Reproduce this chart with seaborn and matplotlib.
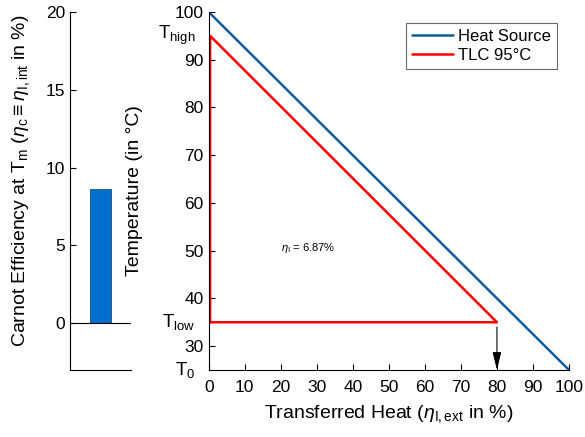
import matplotlib
matplotlib.use("Agg")
import matplotlib.pyplot as plt
import seaborn as sns
import pandas as pd
from matplotlib.patches import ArrowStyle

# ---- data ----
carnot_category = ["Tm"]
carnot_efficiency = [8.6]

source_heat = [0, 100]
source_temp = [100, 25]

tlc_heat = [0.4, 0.4, 80, 0.4]
tlc_temp = [35, 95, 35, 35]

T_high, T_low, T_0 = 95, 35, 25
eta_I_text = r"$\eta_\mathrm{I}$ = 6.87%"
arrow_x = 80

left_yticks = [0, 5, 10, 15, 20]
right_yticks = [30, 40, 50, 60, 70, 80, 90, 100]
right_xticks = list(range(0, 101, 10))

sns.set_style("ticks")
plt.rcParams["font.family"] = ["Liberation Sans", "DejaVu Sans"]
plt.rcParams["mathtext.fontset"] = "custom"
plt.rcParams["mathtext.rm"] = "Liberation Sans"
plt.rcParams["mathtext.it"] = "Liberation Sans:italic"
plt.rcParams["mathtext.bf"] = "Liberation Sans:bold"
for k in ["text.color", "axes.labelcolor", "xtick.color", "ytick.color", "axes.edgecolor"]:
    plt.rcParams[k] = "black"

fig = plt.figure(figsize=(5.85, 4.37), dpi=100)
axL = fig.add_axes([70 / 585, 67 / 437, 61 / 585, 358 / 437])
axR = fig.add_axes([208.7 / 585, 67 / 437, 360.3 / 585, 358 / 437])

# ---- left bar ----
bar_df = pd.DataFrame({"cat": carnot_category, "eff": carnot_efficiency})
sns.barplot(data=bar_df, x="cat", y="eff", ax=axL, color="#0070cc",
            width=0.8, saturation=1, edgecolor="#1a4f80", linewidth=0.6)
axL.set_xlim(-1.163, 1.163)
axL.set_ylim(-3, 20)
axL.axhline(0, color="black", lw=0.8)
axL.set_yticks(left_yticks)
axL.set_xticks([])
axL.set_xlabel("")
axL.tick_params(axis="y", direction="in", length=4, labelsize=12.5, width=0.8)
for s in ["top", "right"]:
    axL.spines[s].set_visible(False)
for s in ["left", "bottom"]:
    axL.spines[s].set_linewidth(0.8)
axL.set_ylabel(r"Carnot Efficiency at T$_\mathrm{m}$ ($\eta_\mathrm{c} \equiv \eta_\mathrm{I,int}$ in %)",
               fontsize=14)
axL.yaxis.set_label_coords(-0.62, 0.53)

# ---- right diagram ----
src_df = pd.DataFrame({"x": source_heat, "y": source_temp})
tlc_df = pd.DataFrame({"x": tlc_heat, "y": tlc_temp})
sns.lineplot(data=src_df, x="x", y="y", ax=axR, color="#105c9e", lw=1.8,
             sort=False, estimator=None, label="Heat Source")
sns.lineplot(data=tlc_df, x="x", y="y", ax=axR, color="#ff0000", lw=1.8,
             sort=False, estimator=None, label="TLC 95°C")
axR.set_xlim(0, 100)
axR.set_ylim(25, 100)
axR.set_xticks(right_xticks)
axR.set_yticks(right_yticks)
axR.tick_params(direction="in", length=4, labelsize=12.5, width=0.8)
axR.tick_params(axis="x", pad=7)
for s in ["top", "right"]:
    axR.spines[s].set_visible(False)
for s in ["left", "bottom"]:
    axR.spines[s].set_linewidth(0.8)
axR.set_xlabel(r"Transferred Heat ($\eta_\mathrm{I,ext}$ in %)", fontsize=14, labelpad=6)
axR.set_ylabel("Temperature (in °C)", fontsize=14)
axR.yaxis.set_label_coords(-0.182, 0.5)

for val, lab in [(T_high, r"T$_\mathrm{high}$"), (T_low, r"T$_\mathrm{low}$"), (T_0, r"T$_\mathrm{0}$")]:
    axR.text(-0.036, val, lab, transform=axR.get_yaxis_transform(),
             ha="right", va="center", fontsize=13.5)

axR.text(20, 50.6, eta_I_text, fontsize=8, ha="left", va="center")

axR.annotate("", xy=(arrow_x, T_0), xytext=(arrow_x, T_low - 1),
             arrowprops=dict(arrowstyle=ArrowStyle("-|>", head_length=0.9, head_width=0.22),
                             color="black", lw=0.8, shrinkA=0, shrinkB=0,
                             mutation_scale=12))

leg = axR.legend(loc="upper right", bbox_to_anchor=(0.967, 0.97), fontsize=12,
                 frameon=True, fancybox=False, handlelength=2.5,
                 borderpad=0.35, labelspacing=0.25, handletextpad=0.3,
                 borderaxespad=0)
leg.get_frame().set_edgecolor("#444444")
leg.get_frame().set_linewidth(0.8)

fig.savefig("out.png", dpi=100)
